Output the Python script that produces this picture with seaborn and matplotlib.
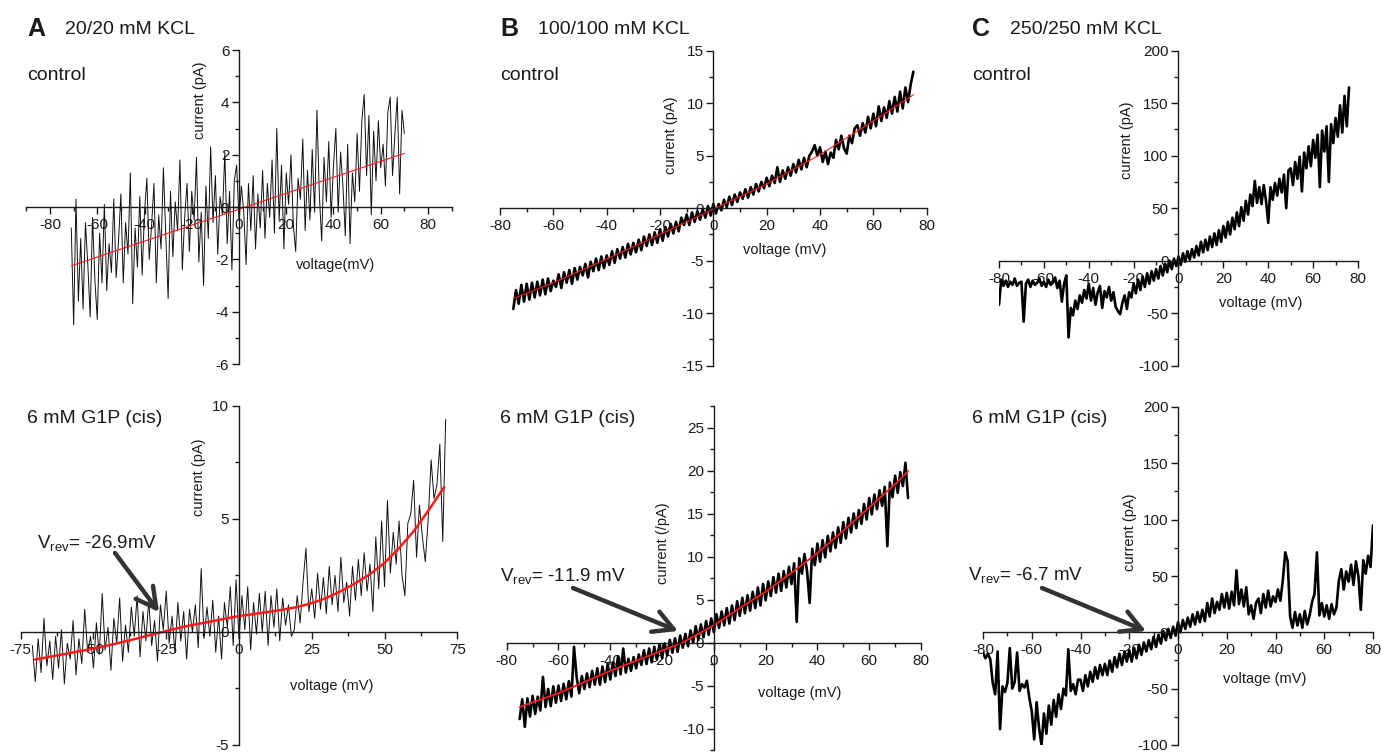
import numpy as np
import matplotlib
matplotlib.use("Agg")
import matplotlib.pyplot as plt
from matplotlib.ticker import MultipleLocator
from matplotlib.patches import FancyArrowPatch
import seaborn as sns

# ---------------- data ----------------
# voltage ramps start (mV); samples every 1 mV
a_top_v0 = -71
a_top_i = [-0.8, -4.5, 0.3, -3.6, -1.2, -3.9, -0.6, -2.2, -4.2, -0.4,
           -2.8, -4.3, -1.0, -2.9, 0.1, -3.2, -1.4, -2.5, 0.3, -2.7,
           -1.3, 0.5, -2.9, -0.6, -1.8, 1.3, -3.7, -0.8, -2.3, 0.4,
           -2.6, -0.2, 1.1, -2.0, -0.7, 0.9, -2.9, -0.3, -1.6, 1.5,
           -1.1, -3.5, 0.6, -1.9, 0.2, -0.9, 1.8, -2.4, -0.4, 0.9,
           -1.7, 0.6, -0.5, 1.9, -2.1, -0.2, -3.0, 0.8, -1.2, 2.3,
           -0.6, 1.2, -1.8, 0.4, -0.3, 2.1, -1.4, 0.6, -2.4, 1.0,
           1.6, -0.5, 0.8, -0.2, -2.2, 0.9, -0.9, 1.2, -1.6, 0.5,
           -0.8, 1.4, -1.2, 0.9, -0.4, 1.8, -1.0, 3.0, -0.5, 1.6,
           -1.6, 1.3, 0.1, 2.0, -0.7, -1.7, 1.1, 0.3, 2.6, -0.9,
           1.4, -0.5, 2.2, -0.2, 3.7, 0.5, -1.3, 1.9, 0.2, 2.5,
           -0.4, 1.6, 3.0, -0.2, 2.1, 0.8, -1.1, 2.4, -1.4, 1.3,
           0.2, 2.8, 0.6, 3.3, 4.3, 1.2, 3.5, -0.3, 2.9, 1.0,
           3.3, 1.5, 2.4, 0.8, 3.6, 4.2, 1.2, 2.8, 4.2, 0.5,
           3.7, 2.8]
a_top_fit_v = [-71, 70]
a_top_fit_i = [-2.25, 2.05]

a_bot_v0 = -71
a_bot_i = [-0.6, -2.2, -0.3, -1.8, 0.6, -1.5, -0.4, -2.1, -0.2, -1.6,
           0.1, -2.3, -0.5, -1.2, 0.5, -1.9, -0.3, -1.4, 1.0, -0.9,
           -0.2, -1.6, 0.4, -1.0, 1.7, -0.8, 0.2, -1.7, 0.6, -0.5,
           1.5, -1.3, 0.3, -0.9, 1.1, -0.2, 1.6, -1.1, 0.9, -0.4,
           1.4, -0.6, 0.5, -1.3, 1.2, 0.1, 1.8, -0.5, 0.7, -0.9,
           1.3, -0.4, 0.9, -1.2, 1.0, 0.0, 1.2, -0.7, 2.8, -0.3,
           1.1, -0.2, 1.4, -0.9, 0.7, -1.2, 1.3, 0.2, 2.0, -0.6,
           2.3, -0.3, 1.6, 0.1, 2.0, -0.8, 1.3, -0.1, 1.7, 0.0,
           1.8, -0.6, 1.6, 0.2, 1.9, -0.4, 1.5, 0.3, 1.2, -0.2,
           0.1, 1.6, 0.4, 2.2, 3.7, 0.9, 1.9, 0.6, 2.6, 1.0,
           2.4, 0.8, 2.9, 1.2, 2.5, 0.9, 3.3, 1.3, 2.2, 0.7,
           2.9, 1.4, 3.2, 1.6, 3.5, 1.8, 3.0, 0.9, 4.2, 1.9,
           4.9, 2.0, 5.8, 2.6, 4.4, 3.0, 4.9, 2.5, 1.6, 4.8,
           5.2, 6.7, 3.3, 5.6, 4.2, 3.1, 5.0, 7.6, 5.9, 6.5,
           8.3, 4.0, 9.4]
a_bot_fit_v = [-70, -65, -60, -55, -50, -45, -40, -35, -30, -25, -20, -15, -10, -5,
               0, 5, 10, 15, 20, 25, 30, 35, 40, 45, 50, 55, 60, 65, 70.5]
a_bot_fit_i = [-1.22, -1.10, -0.98, -0.86, -0.74, -0.60, -0.45, -0.29, -0.12, 0.04,
               0.20, 0.33, 0.45, 0.58, 0.70, 0.79, 0.88, 0.98, 1.10, 1.27, 1.50,
               1.80, 2.15, 2.55, 3.05, 3.70, 4.45, 5.35, 6.40]

b_top_v0 = -75
b_top_i = [-9.6, -7.8, -9.1, -7.3, -8.9, -7.2, -8.7, -7.1, -8.5, -7.0,
           -8.3, -6.8, -8.2, -6.7, -7.9, -6.9, -7.5, -6.3, -7.6, -6.1,
           -7.1, -5.9, -7.2, -5.7, -6.8, -5.6, -6.4, -5.3, -6.6, -5.1,
           -6.0, -4.8, -5.9, -4.6, -5.7, -4.5, -5.4, -4.1, -5.2, -3.9,
           -4.8, -3.7, -4.7, -3.4, -4.4, -3.3, -4.2, -3.0, -4.0, -2.7,
           -3.6, -2.5, -3.5, -2.3, -3.3, -2.0, -3.1, -1.8, -2.7, -1.5,
           -2.4, -1.3, -2.2, -0.9, -1.6, -0.6, -1.6, -0.4, -1.3, -0.3,
           -1.1, -0.1, -0.9, 0.2, -0.7, 0.4, -0.5, 0.4, -0.2, 0.8,
           0.1, 1.1, 0.3, 1.3, 0.6, 1.5, 0.9, 1.8, 1.0, 2.0,
           1.3, 2.3, 1.6, 2.5, 1.9, 2.9, 2.1, 3.1, 2.4, 3.9,
           2.5, 3.6, 2.8, 3.9, 3.1, 4.2, 3.4, 4.6, 3.7, 4.8,
           3.9, 5.0, 5.4, 6.0, 5.0, 5.8, 4.4, 5.4, 4.2, 5.3,
           4.8, 6.5, 5.6, 6.9, 5.7, 5.2, 6.9, 6.2, 7.6, 7.9,
           6.9, 8.1, 7.2, 8.7, 7.6, 9.0, 7.8, 9.7, 8.3, 9.6,
           8.6, 10.2, 9.0, 10.6, 9.2, 11.1, 9.5, 11.5, 10.1, 11.8,
           13.0]
b_top_fit_v = [-75, -60, -40, -20, 0, 20, 40, 60, 75]
b_top_fit_i = [-8.6, -7.1, -4.85, -2.5, -0.1, 2.3, 5.1, 8.3, 10.8]

b_bot_v0 = -75
b_bot_i = [-8.9, -6.6, -9.8, -6.5, -8.6, -6.2, -8.3, -6.3, -7.9, -4.0,
           -7.5, -5.4, -7.4, -5.1, -7.0, -5.0, -6.8, -4.8, -6.6, -4.5,
           -6.3, -0.5, -4.0, -5.9, -3.9, -5.4, -3.6, -5.2, -3.3, -4.9,
           -3.0, -4.9, -2.8, -4.6, -2.5, -4.3, -2.3, -3.9, -1.6, -3.7,
           -0.7, -3.5, -1.9, -3.3, -1.7, -3.0, -1.4, -2.6, -0.9, -2.5,
           -0.7, -2.3, -0.5, -2.0, -0.2, -1.8, -0.1, -1.5, 0.3, -1.2,
           0.5, -1.1, 0.8, -0.6, 1.0, -0.4, 1.4, 0.0, 1.9, 0.3,
           2.1, 0.6, 2.5, 0.9, 2.8, 1.2, 3.3, 1.7, 3.6, 2.0,
           4.0, 2.2, 4.3, 2.6, 4.8, 3.1, 5.2, 3.4, 5.5, 3.7,
           5.9, 4.0, 6.4, 4.3, 6.8, 4.9, 7.1, 5.4, 7.6, 5.8,
           8.0, 6.0, 8.3, 6.4, 8.8, 6.8, 9.2, 2.4, 9.8, 8.0,
           10.3, 8.3, 4.6, 10.9, 9.0, 11.5, 9.4, 11.9, 9.9, 12.4,
           10.6, 12.8, 11.0, 13.4, 11.6, 14.0, 12.1, 14.5, 12.8, 15.0,
           13.3, 15.4, 13.8, 16.1, 14.3, 16.8, 14.9, 17.2, 15.5, 17.7,
           15.9, 18.1, 11.2, 18.6, 16.9, 19.4, 17.4, 19.8, 18.2, 20.9,
           16.8]
b_bot_fit_v = [-75, -60, -40, -20, -12, 0, 10, 20, 30, 40, 50, 60, 70, 75]
b_bot_fit_i = [-7.5, -5.9, -3.3, -0.95, 0.0, 2.0, 4.0, 5.9, 8.1, 10.4, 13.0, 15.7, 18.4, 19.9]

c_top_v0 = -80
c_top_i = [-42, -18, -24, -19, -25, -20, -23, -17, -24, -21,
           -20, -58, -22, -18, -25, -19, -23, -21, -17, -24,
           -20, -25, -18, -23, -21, -16, -26, -19, -39, -22,
           -14, -73, -45, -52, -38, -46, -33, -40, -28, -36,
           -22, -38, -26, -42, -30, -24, -45, -29, -35, -25,
           -38, -30, -44, -48, -51, -40, -33, -46, -30, -35,
           -22, -31, -18, -28, -15, -25, -12, -22, -10, -19,
           -8, -17, -5, -14, -3, -11, 0, -8, 2, -5,
           4, -4, 7, -1, 9, 1, 11, 3, 14, 5,
           18, 8, 20, 10, 23, 13, 26, 15, 29, 18,
           33, 22, 37, 25, 41, 30, 46, 33, 51, 38,
           57, 44, 63, 52, 76, 55, 70, 54, 72, 57,
           36, 70, 58, 74, 62, 78, 65, 82, 50, 86,
           88, 72, 94, 78, 99, 66, 103, 88, 109, 90,
           115, 98, 120, 70, 124, 104, 128, 75, 130, 112,
           136, 118, 148, 122, 157, 128, 165]

c_bot_v0 = -80
c_bot_i = [-18, -23, -19, -24, -45, -55, -17, -86, -48, -53,
           -45, -14, -50, -44, -18, -52, -46, -49, -43, -58,
           -70, -95, -62, -85, -100, -72, -90, -65, -82, -60,
           -75, -55, -68, -50, -56, -15, -52, -46, -55, -42,
           -42, -52, -38, -48, -35, -44, -31, -41, -29, -38,
           -28, -38, -25, -35, -22, -31, -19, -29, -17, -26,
           -16, -26, -14, -23, -11, -20, -9, -17, -7, -15,
           -4, -13, -2, -10, 1, -7, 3, -5, 5, -3,
           9, 0, 11, 3, 13, 5, 16, 7, 18, 9,
           20, 10, 26, 14, 30, 17, 27, 20, 34, 22,
           35, 21, 36, 24, 55, 25, 38, 23, 40, 16,
           24, 12, 26, 30, 17, 34, 22, 37, 23, 32,
           27, 38, 28, 46, 71, 63, 14, 4, 18, 6,
           16, 4, 19, 7, 15, 27, 34, 71, 15, 26,
           14, 24, 12, 25, 16, 22, 46, 56, 38, 54,
           45, 60, 42, 63, 50, 20, 64, 52, 68, 58, 95]

panel_letters = ["A", "B", "C"]
panel_titles = ["20/20 mM KCL", "100/100 mM KCL", "250/250 mM KCL"]
row_labels = ["control", "6 mM G1P (cis)"]
vrev_labels = ["V$_{\\mathrm{rev}}$= -26.9mV", "V$_{\\mathrm{rev}}$= -11.9 mV", "V$_{\\mathrm{rev}}$= -6.7 mV"]

# ---------------- style ----------------
sns.set_theme(style="white")
plt.rcParams["font.family"] = ["Liberation Sans", "DejaVu Sans"]
plt.rcParams["axes.unicode_minus"] = False
plt.rcParams["mathtext.fontset"] = "custom"
plt.rcParams["mathtext.rm"] = "Liberation Sans"
plt.rcParams["mathtext.it"] = "Liberation Sans:italic"
plt.rcParams["mathtext.bf"] = "Liberation Sans:bold"

W, H = 1382, 754
fig = plt.figure(figsize=(W / 100, H / 100), dpi=100)
fig.patch.set_facecolor("white")
AX_COL = "#1a1a1a"


def add_panel(box, xlim, ylim, xmaj, xmin, ymaj, ymin):
    x0, x1, yt, yb = box
    ax = fig.add_axes([x0 / W, 1 - yb / H, (x1 - x0) / W, (yb - yt) / H])
    ax.patch.set_alpha(0)
    for s in ("top", "right"):
        ax.spines[s].set_visible(False)
    for s in ("left", "bottom"):
        ax.spines[s].set_position("zero")
        ax.spines[s].set_color(AX_COL)
        ax.spines[s].set_linewidth(1.0)
    ax.xaxis.set_major_locator(MultipleLocator(xmaj))
    ax.xaxis.set_minor_locator(MultipleLocator(xmin))
    ax.yaxis.set_major_locator(MultipleLocator(ymaj))
    ax.yaxis.set_minor_locator(MultipleLocator(ymin))
    ax.tick_params(which="major", direction="out", length=5, width=1, color=AX_COL,
                   labelsize=11, labelcolor=AX_COL)
    ax.tick_params(which="minor", direction="out", length=3, width=1, color=AX_COL)
    ax.tick_params(axis="x", which="both", bottom=True, pad=3)
    ax.tick_params(axis="y", which="both", left=True, pad=2)
    ax.grid(False)
    return ax, xlim, ylim


def finish(ax, xlim, ylim):
    ax.set_xlim(xlim)
    ax.set_ylim(ylim)
    ax.set_xlabel("")
    ax.set_ylabel("")


def trace(ax, v0, vals, color="black", lw=0.7):
    v = np.arange(v0, v0 + len(vals))
    sns.lineplot(x=v, y=np.asarray(vals, float), ax=ax, color=color, linewidth=lw,
                 sort=False, estimator=None, legend=False)


def fit(ax, v, i, lw):
    sns.lineplot(x=np.asarray(v, float), y=np.asarray(i, float), ax=ax, color="#ff1a1a",
                 linewidth=lw, sort=False, estimator=None, legend=False)


def ftext(x, y, s, size, ha="left", va="center", rot=0, weight="normal"):
    fig.text(x / W, 1 - y / H, s, fontsize=size, ha=ha, va=va, rotation=rot,
             fontweight=weight, color="#1a1a1a")


def arrow(x0, y0, x1, y1):
    fig.add_artist(FancyArrowPatch((x0 / W, 1 - y0 / H), (x1 / W, 1 - y1 / H),
                                   transform=fig.transFigure,
                                   arrowstyle="->,head_length=0.55,head_width=0.3",
                                   mutation_scale=26, lw=3.2, color="#333333",
                                   shrinkA=0, shrinkB=0))


# ---- A top
ax, xl, yl = add_panel((26.4, 451.6, 50, 364), (-90, 90), (-6, 6), 20, 10, 2, 1)
trace(ax, a_top_v0, a_top_i, color="#111111", lw=0.7)
fit(ax, a_top_fit_v, a_top_fit_i, 0.8)
finish(ax, xl, yl)
# ---- A bottom
ax, xl, yl = add_panel((20.7, 457.3, 405.7, 745), (-75, 75), (-5, 10), 25, 12.5, 5, 2.5)
trace(ax, a_bot_v0, a_bot_i, color="#111111", lw=0.7)
fit(ax, a_bot_fit_v, a_bot_fit_i, 1.8)
finish(ax, xl, yl)
# ---- B top
ax, xl, yl = add_panel((500, 926.7, 50.7, 365.7), (-80, 80), (-15, 15), 20, 10, 5, 2.5)
trace(ax, b_top_v0, b_top_i, lw=1.9)
fit(ax, b_top_fit_v, b_top_fit_i, 0.8)
finish(ax, xl, yl)
# ---- B bottom
ax, xl, yl = add_panel((506.7, 921, 406, 750), (-80, 80), (-12.5, 27.5), 20, 10, 5, 2.5)
trace(ax, b_bot_v0, b_bot_i, lw=1.9)
fit(ax, b_bot_fit_v, b_bot_fit_i, 1.3)
finish(ax, xl, yl)
# ---- C top
ax, xl, yl = add_panel((999, 1358, 50.7, 365.7), (-80, 80), (-100, 200), 20, 10, 50, 25)
trace(ax, c_top_v0, c_top_i, lw=1.9)
finish(ax, xl, yl)
# ---- C bottom
ax, xl, yl = add_panel((983, 1373, 407, 745), (-80, 80), (-100, 200), 20, 10, 50, 25)
trace(ax, c_bot_v0, c_bot_i, lw=1.9)
finish(ax, xl, yl)

# ---------------- texts ----------------
letter_x = [27, 500, 972]
title_x = [65, 538, 1010]
for k in range(3):
    ftext(letter_x[k], 29, panel_letters[k], 18, weight="bold")
    ftext(title_x[k], 30, panel_titles[k], 14)
    ftext(letter_x[k], 75, row_labels[0], 14)
    ftext(letter_x[k], 418, row_labels[1], 14)

# axis labels
ftext(200, 100, "current (pA)", 10.5, ha="center", rot=90)
ftext(336, 265, "voltage(mV)", 10.5, ha="center")
ftext(670.7, 135, "current (pA)", 10.5, ha="center", rot=90)
ftext(785, 250, "voltage (mV)", 10.5, ha="center")
ftext(1126.7, 140, "current (pA)", 10.5, ha="center", rot=90)
ftext(1261, 303, "voltage (mV)", 10.5, ha="center")
ftext(199, 477, "current (pA)", 10.5, ha="center", rot=90)
ftext(332, 686, "voltage (mV)", 10.5, ha="center")
ftext(663, 543, "current (/pA)", 10.5, ha="center", rot=90)
ftext(800, 693, "voltage (mV)", 10.5, ha="center")
ftext(1130, 532, "current (pA)", 10.5, ha="center", rot=90)
ftext(1265, 679, "voltage (mV)", 10.5, ha="center")

# reversal potential annotations
ftext(37, 543, vrev_labels[0], 13.5)
arrow(115, 553, 159, 612)
ftext(500, 576, vrev_labels[1], 13.5)
arrow(573, 588, 678, 631)
ftext(968, 575, vrev_labels[2], 13.5)
arrow(1042, 588, 1146, 631)

fig.savefig("out.png", dpi=100, facecolor="white")
